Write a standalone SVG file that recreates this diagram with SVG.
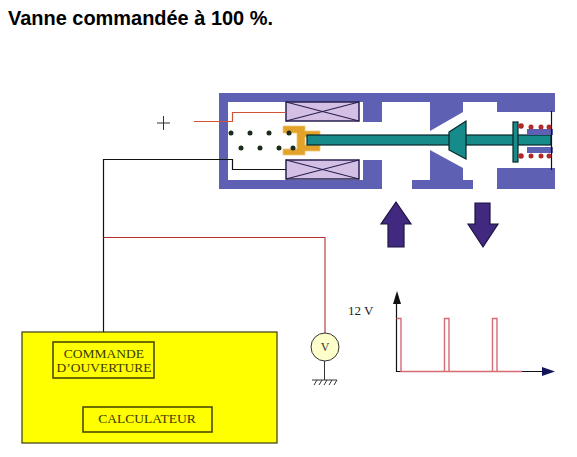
<svg xmlns="http://www.w3.org/2000/svg" width="577" height="457" viewBox="0 0 577 457">
<style>
.t{font-family:"Liberation Serif","Times New Roman",serif;font-size:13.500px;fill:#3a3a00;text-anchor:middle}
.box{fill:none;stroke:#4a4a00;stroke-width:1.6}
.coil{fill:#d4c0e4;stroke:#2a2050;stroke-width:1.5}
.x{fill:none;stroke:#2a2050;stroke-width:1.1}
.dot{fill:#1c2c1c}
.sp{fill:#b02828}
.blue{fill:#5e60b4}
.teal{fill:#178a8a;stroke:#06262a;stroke-width:1.2}
.arr{fill:#41297f;stroke:#1c1440;stroke-width:1.2}
.red{fill:none;stroke:#b03030;stroke-width:1.1}
.blk{fill:none;stroke:#111;stroke-width:1.2}
.pulse{fill:none;stroke:#d86a74;stroke-width:1.4}
</style>
<rect width="577" height="457" fill="#fff"/>
<text x="8" y="25" font-family="'Liberation Sans',Arial,sans-serif" font-size="20" font-weight="bold" fill="#000" textLength="265" lengthAdjust="spacingAndGlyphs">Vanne commandée à 100 %.</text>
<g id="valve-body">
<rect class="blue" x="219" y="93" width="336" height="96"/>
<path fill="#fff" d="M228 102H363V122H382V102H430V131L463 112V102H497V112H555V168H497V189H473V180H463V168L430 150V180H412V189H382V160H363V180H228Z"/>
</g>
<g id="coils">
<rect class="coil" x="286" y="102" width="73" height="19"/>
<path class="x" d="M286 102L359 121M359 102L286 121"/>
<rect class="coil" x="286" y="160" width="73" height="19"/>
<path class="x" d="M286 160L359 179M359 160L286 179"/>
</g>
<g id="plunger">
<path d="M283 126H305V131H320V137H305V145H320V151H305V155H283V149H297V133H283Z" fill="#e3a22a" stroke="#f0c878" stroke-width="0.8"/>
</g>
<g id="rod">
<rect class="teal" x="307" y="135" width="244" height="10"/>
<path class="teal" d="M449 132L466 121V159L449 150Z"/>
<rect class="teal" x="513" y="122" width="5" height="40"/>
<rect class="blue" x="527" y="129" width="26" height="6"/>
<rect class="blue" x="527" y="147" width="26" height="6"/>
<path class="blk" d="M551.500 111V170"/>
</g>
<g id="dots">
<circle class="dot" cx="231" cy="133" r="2.500"/><circle class="dot" cx="250" cy="133" r="2.500"/><circle class="dot" cx="269" cy="133" r="2.500"/><circle class="dot" cx="289" cy="133" r="2.500"/>
<circle class="dot" cx="241" cy="148" r="2.500"/><circle class="dot" cx="260" cy="148" r="2.500"/><circle class="dot" cx="279" cy="148" r="2.500"/><circle class="dot" cx="293" cy="148" r="2.500"/>
</g>
<g id="spring">
<circle class="sp" cx="521" cy="126" r="2.800"/><circle class="sp" cx="531" cy="127" r="2.500"/><circle class="sp" cx="541" cy="127" r="2.500"/><circle class="sp" cx="549" cy="127" r="2.500"/>
<circle class="sp" cx="521" cy="156" r="2.800"/><circle class="sp" cx="531" cy="156" r="2.500"/><circle class="sp" cx="541" cy="156" r="2.500"/><circle class="sp" cx="549" cy="156" r="2.500"/>
</g>
<g id="connectors">
<path d="M194 121.500H232.500V112.500H286" fill="none" stroke="#d05038" stroke-width="1.200"/>
<path class="blk" d="M103.500 332V159.500H232.500V169.500H286"/>
<path class="red" d="M103.500 237.500H325V333"/>
<path d="M157 123H170M163.500 116V130" fill="none" stroke="#333" stroke-width="1"/>
</g>
<g id="arrow-in"><path class="arr" d="M396 202L411 224H404V247H388V224H381Z"/></g>
<g id="arrow-out"><path class="arr" d="M475 203H490V224H498L483 247L468 224H475Z"/></g>
<g id="computer">
<rect x="22" y="332" width="255" height="111" fill="#ffff00" stroke="#3a3a10" stroke-width="1.2"/>
<g id="commande"><rect class="box" x="53" y="342" width="101" height="36"/>
<text class="t" x="104" y="358">COMMANDE</text><text class="t" x="104" y="372">D’OUVERTURE</text></g>
<g id="calculateur"><rect class="box" x="83" y="407" width="129" height="25"/>
<text class="t" x="147" y="423">CALCULATEUR</text></g>
</g>
<g id="voltmeter">
<path d="M324.500 361V380M312 380H337M314 385L317 380M319 385L322 380M324 385L327 380M329 385L332 380M334 385L337 380" fill="none" stroke="#333" stroke-width="1"/>
<circle cx="325" cy="347" r="14" fill="#ffffcc" stroke="#333" stroke-width="1"/>
<text x="325" y="351" font-family="'Liberation Serif',serif" font-size="12" fill="#333" text-anchor="middle">V</text>
</g>
<g id="graph">
<text x="348" y="315" font-family="'Liberation Serif',serif" font-size="13" fill="#222">12 V</text>
<path class="blk" d="M396.500 298V371.500H548"/>
<path d="M397 291L401 304H393Z" fill="#111"/>
<path d="M555 371.500L542 367V376Z" fill="#14145a"/>
<path class="pulse" d="M396.500 318.500H401V371.500H444.500V318.500H449V371.500H444.500M449 371.500H492.500V318.500H497V371.500H492.500M497 371.500H522"/>
</g>
</svg>
